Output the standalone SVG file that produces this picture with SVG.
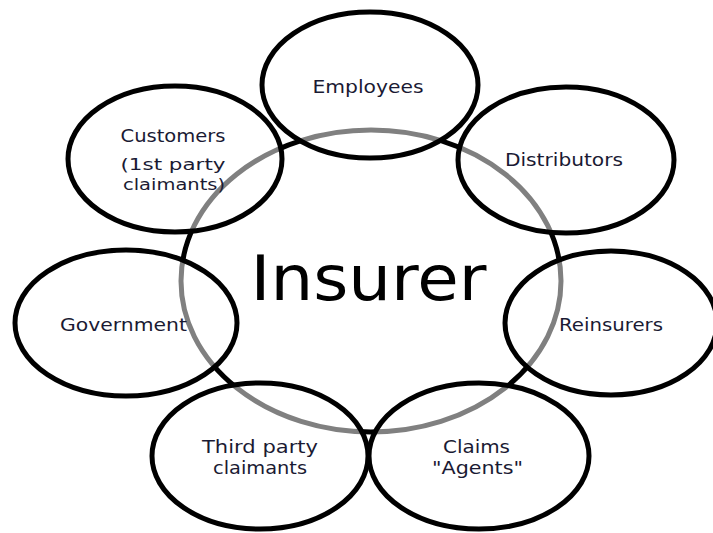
<svg xmlns="http://www.w3.org/2000/svg" width="713" height="533" viewBox="0 0 713 533">
  <style>
    .ring { fill: none; stroke: #000; stroke-width: 5; }
    .node { fill: #fff; fill-opacity: 0.5; stroke: #000; stroke-width: 5; }
    .lbl { font-family: "DejaVu Sans", "Liberation Sans", sans-serif; font-size: 18px; fill: #1a1a33; text-anchor: middle; }
    .tight { font-size: 16.5px; }
    .core { font-family: "DejaVu Sans", "Liberation Sans", sans-serif; font-size: 62px; fill: #000; }
  </style>
  <rect width="713" height="533" fill="#fff"/>

  <!-- central ring; shows grey where the half-transparent nodes cover it -->
  <g id="insurer">
    <ellipse class="ring" cx="371" cy="281" rx="190" ry="151"/>
    <text class="core" x="250.5" y="299.5" textLength="236" lengthAdjust="spacingAndGlyphs">Insurer</text>
  </g>

  <g id="connectors"></g>

  <g id="employees">
    <ellipse class="node" cx="370" cy="85" rx="108" ry="73"/>
    <text class="lbl" x="368" y="93" textLength="111" lengthAdjust="spacingAndGlyphs">Employees</text>
  </g>

  <g id="customers">
    <ellipse class="node" cx="175" cy="159" rx="107" ry="73"/>
    <text class="lbl" x="173" y="141.5" textLength="105" lengthAdjust="spacingAndGlyphs">Customers</text>
    <text class="lbl tight" x="173" y="169.5" textLength="105" lengthAdjust="spacingAndGlyphs">(1st party</text>
    <text class="lbl tight" x="174" y="190" textLength="102" lengthAdjust="spacingAndGlyphs">claimants)</text>
  </g>

  <g id="distributors">
    <ellipse class="node" cx="566" cy="160" rx="108" ry="73"/>
    <text class="lbl" x="564" y="165.5" textLength="118" lengthAdjust="spacingAndGlyphs">Distributors</text>
  </g>

  <g id="government">
    <ellipse class="node" cx="126" cy="323" rx="111" ry="73"/>
    <text class="lbl" x="123.5" y="331" textLength="127" lengthAdjust="spacingAndGlyphs">Government</text>
  </g>

  <g id="reinsurers">
    <ellipse class="node" cx="611" cy="323" rx="106" ry="72"/>
    <text class="lbl" x="611" y="331" textLength="104" lengthAdjust="spacingAndGlyphs">Reinsurers</text>
  </g>

  <g id="third-party">
    <ellipse class="node" cx="260" cy="456" rx="108" ry="73"/>
    <text class="lbl" x="260" y="453" textLength="116" lengthAdjust="spacingAndGlyphs">Third party</text>
    <text class="lbl" x="260" y="474" textLength="94" lengthAdjust="spacingAndGlyphs">claimants</text>
  </g>

  <g id="claims-agents">
    <ellipse class="node" cx="479" cy="456" rx="110" ry="73"/>
    <text class="lbl" x="476.5" y="453" textLength="67" lengthAdjust="spacingAndGlyphs">Claims</text>
    <text class="lbl" x="477.5" y="474" textLength="91" lengthAdjust="spacingAndGlyphs">"Agents"</text>
  </g>
</svg>
